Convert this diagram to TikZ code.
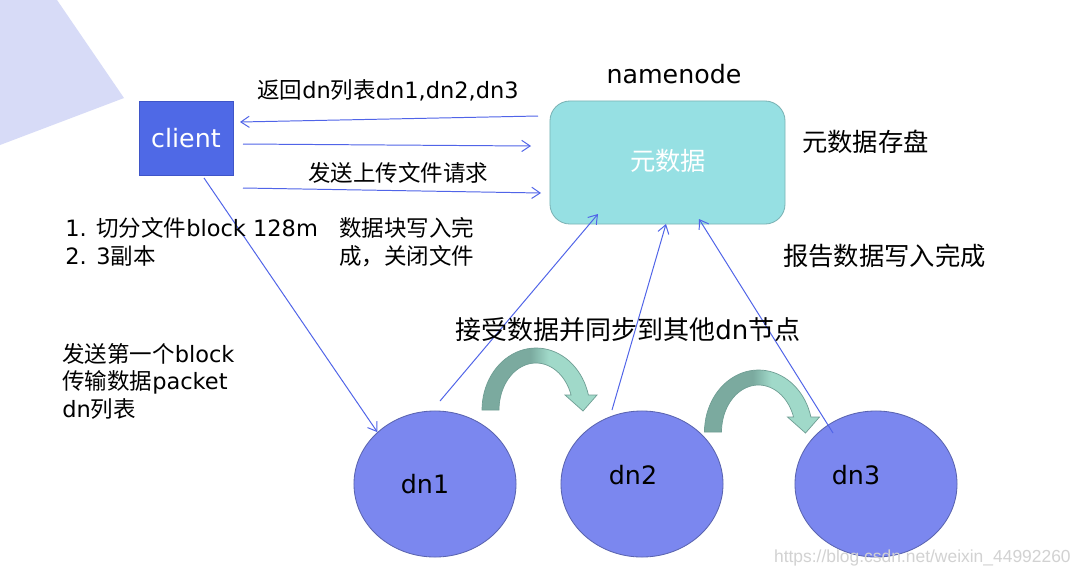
\documentclass[tikz,border=0pt]{standalone}
\usepackage{fontspec}
\setmainfont{DejaVu Sans}
\newfontfamily\cjk{Noto Sans CJK SC}
\newfontfamily\wmfont{Liberation Sans}
\usetikzlibrary{arrows.meta,shapes.geometric}
\newcommand\zh[1]{{\cjk #1}}
\definecolor{bgpoly}{HTML}{D7DBF7}
\definecolor{clientfill}{HTML}{4F69E6}
\definecolor{clientdraw}{HTML}{3F55C8}
\definecolor{nnfill}{HTML}{96E0E3}
\definecolor{nndraw}{HTML}{7BB3B5}
\definecolor{dnfill}{HTML}{7B87EF}
\definecolor{dndraw}{HTML}{5A64B0}
\definecolor{arcdark}{HTML}{7BAA9F}
\definecolor{arclight}{HTML}{A0D9C9}
\definecolor{arcedge}{HTML}{6F9E94}
\definecolor{lineblue}{HTML}{5064E8}
\definecolor{wmgray}{HTML}{D2D2D2}
\pgfdeclarehorizontalshading{arcshade}{100bp}{color(0bp)=(arcdark); color(46bp)=(arcdark); color(54bp)=(arclight); color(100bp)=(arclight)}
\tikzset{
  arr/.style={draw=lineblue, line width=0.7pt, -{Straight Barb[length=6pt,width=8pt]}},
  txtA/.style={inner sep=0pt, font=\fontsize{16}{20}\selectfont},
  txtB/.style={inner sep=0pt, font=\fontsize{18}{22}\selectfont},
  txtC/.style={inner sep=0pt, font=\fontsize{18.5}{23}\selectfont},
  dnnode/.style={ellipse, draw=dndraw, fill=dnfill, line width=0.6pt, minimum width=4.05cm, minimum height=3.65cm, inner sep=0pt},
}
\newcommand\curvedarrow{%
  \shadedraw[shading=arcshade, draw=arcedge, line width=0.5pt]
    plot[domain=180:14, samples=40, variable=\t] ({536+54*cos(\t)},{410-62*sin(\t)})
    -- (597,395) -- (583,411) -- (565,395)
    -- plot[domain=18.6:180, samples=40, variable=\t] ({536+37*cos(\t)},{410-47*sin(\t)})
    -- cycle;}
\begin{document}
\begin{tikzpicture}[x=0.025cm, y=-0.025cm]
\useasboundingbox (0,0) rectangle (1080,575);
\fill[white] (0,0) rectangle (1080,575);
% background decoration
\fill[bgpoly] (0,0) -- (57,0) -- (124,98) -- (0,145) -- cycle;

% nodes
\node[draw=clientdraw, fill=clientfill, line width=0.6pt, minimum width=2.35cm, minimum height=1.85cm, inner sep=0pt] (client) at (186,138) {};
\node[txtB, text=white, anchor=base] (clienttxt) at (186,147) {client};

\node[draw=nndraw, fill=nnfill, line width=0.6pt, rounded corners=0.5cm, minimum width=5.875cm, minimum height=3.075cm, inner sep=0pt] (nn) at (667.5,162.5) {};
\node[txtB, text=white, anchor=base] (nntxt) at (668,170) {\zh{元数据}};
\node[txtB, anchor=base] (nnlabel) at (674,83) {namenode};

\node[dnnode] (dn1) at (435,484) {};
\node[dnnode] (dn2) at (642,484) {};
\node[dnnode] (dn3) at (876,484) {};
\node[txtB, anchor=base] (dn1txt) at (425,493) {dn1};
\node[txtB, anchor=base] (dn2txt) at (633,484) {dn2};
\node[txtB, anchor=base] (dn3txt) at (856,484) {dn3};

% curved arrows
\curvedarrow
\begin{scope}[shift={(222.5,22)}]
\curvedarrow
\end{scope}

% connector end points
\coordinate (r1s) at (538,116);
\coordinate (r1e) at (240,122);
\coordinate (r2s) at (243,144);
\coordinate (r2e) at (531,146);
\coordinate (r3s) at (243,188);
\coordinate (r3e) at (541,193);
\coordinate (c4s) at (204,178);
\coordinate (d1s) at (440,401);
\coordinate (n1e) at (598,214);
\coordinate (d2s) at (612,410);
\coordinate (n2e) at (666,224);
\coordinate (d3s) at (833,433);
\coordinate (n3e) at (699,219);

\draw[arr] (r1s) -- (r1e);
\draw[arr] (r2s) -- (r2e);
\draw[arr] (r3s) -- (r3e);
\draw[arr] (c4s) -- (dn1.138);
\draw[arr] (d1s) -- (n1e);
\draw[arr] (d2s) -- (n2e);
\draw[arr] (d3s) -- (n3e);

% labels
\node[txtA, anchor=base west] (l1) at (257,98) {\zh{返回}dn\zh{列表}dn1,dn2,dn3};
\node[txtA, anchor=base west] (l2) at (308,181) {\zh{发送上传文件请求}};
\node[txtB, anchor=base west] (l3) at (802,151) {\zh{元数据存盘}};
\node[txtB, anchor=base west] (l4) at (783,265) {\zh{报告数据写入完成}};
\node[txtC, anchor=base west] (l5) at (455,339) {\zh{接受数据并同步到其他}dn\zh{节点}};
\node[txtA, anchor=base west] (l6a) at (65,236) {1. \zh{切分文件}block 128m};
\node[txtA, anchor=base west] (l6b) at (65,264) {2. 3\zh{副本}};
\node[txtA, anchor=base west] (l7a) at (339,236) {\zh{数据块写入完}};
\node[txtA, anchor=base west] (l7b) at (339,264) {\zh{成，关闭文件}};
\node[txtA, anchor=base west] (l8a) at (62,362) {\zh{发送第一个}block};
\node[txtA, anchor=base west] (l8b) at (62,389) {\zh{传输数据}packet};
\node[txtA, anchor=base west] (l8c) at (62,417) {dn\zh{列表}};

% watermark
\node[inner sep=0pt, anchor=base east, text=wmgray, font=\wmfont\fontsize{12.4}{14}\selectfont] (wm) at (1071,562) {https://blog.csdn.net/weixin\_44992260};
\end{tikzpicture}
\end{document}
